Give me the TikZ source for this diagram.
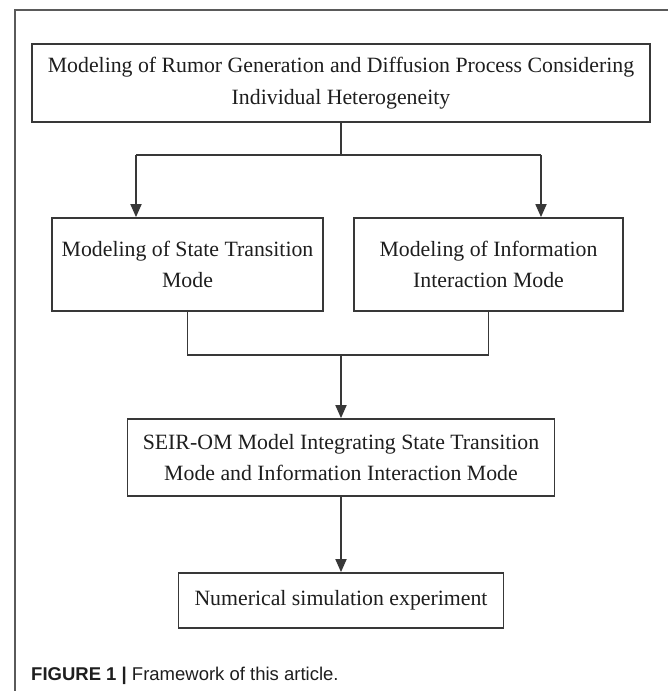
\documentclass[tikz,border=0pt]{standalone}
\usepackage{fontspec}
\setmainfont{Liberation Serif}
\newfontfamily\capfont{Liberation Sans}
\usetikzlibrary{arrows.meta}
\definecolor{boxline}{HTML}{383838}
\definecolor{frameline}{HTML}{5A5A5A}
\definecolor{txt}{HTML}{1E1E1E}
\tikzset{
  stepbox/.style={draw=boxline, line width=1.8pt, rectangle, align=center, text=txt,
    font=\fontsize{21.8}{31.5}\selectfont, inner sep=0pt},
  conn/.style={draw=boxline, line width=1.8pt},
  arr/.style={conn, -{Triangle[width=11pt,length=13pt]}}
}
\begin{document}
\begin{tikzpicture}[x=1pt,y=-1pt]
\useasboundingbox (0,0) rectangle (668,691);
\fill[white] (0,0) rectangle (668,691);
% outer frame (only top and left visible)
\draw[frameline, line width=1.4pt] (15,691) -- (15,10) -- (668,10);
% boxes
\node[stepbox, minimum width=618pt, minimum height=78pt] (top) at (341,83)
  {Modeling of Rumor Generation and Diffusion Process Considering\\Individual Heterogeneity};
\node[stepbox, minimum width=271pt, minimum height=93pt] (left) at (187.5,264.5)
  {Modeling of State Transition\\Mode};
\node[stepbox, minimum width=269pt, minimum height=93pt] (right) at (488.5,264.5)
  {Modeling of Information\\Interaction Mode};
\node[stepbox, minimum width=427pt, minimum height=77pt] (seir) at (341,457.5)
  {SEIR-OM Model Integrating State Transition\\Mode and Information Interaction Mode};
\node[stepbox, minimum width=325pt, minimum height=55pt] (num) at (341,600.5)
  {Numerical simulation experiment};
% connectors
\coordinate (f1) at (136,155);
\coordinate (f2) at (541,155);
\coordinate (j) at (341,355);
\draw[conn] (top.south) -- (top.south |- f1);
\draw[conn] (f1) -- (f2);
\draw[arr] (f1) -- (f1 |- left.north);
\draw[arr] (f2) -- (f2 |- right.north);
\draw[conn] (left.south) -- (left.south |- j) -- (right.south |- j) -- (right.south);
\draw[arr] (j) -- (seir.north);
\draw[arr] (seir.south) -- (num.north);
% caption
\node[anchor=base west, inner sep=0pt, text=txt] (cap) at (31,680)
  {\capfont\fontsize{18.5}{21}\selectfont\textbf{FIGURE 1 |} Framework of this article.};
\end{tikzpicture}
\end{document}
